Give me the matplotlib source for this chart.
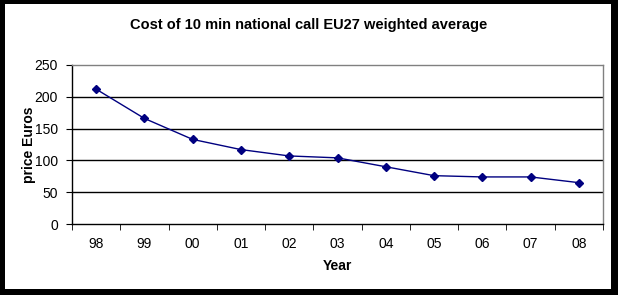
import matplotlib
matplotlib.use("Agg")
import matplotlib.pyplot as plt
from matplotlib.patches import Rectangle

years = ["98", "99", "00", "01", "02", "03", "04", "05", "06", "07", "08"]
price = [212, 166, 133, 117, 107, 104, 90, 76, 74, 74, 65]
yticks = [0, 50, 100, 150, 200, 250]

plt.rcParams['font.family'] = ['Liberation Sans', 'DejaVu Sans']

W, H = 618, 295
fig = plt.figure(figsize=(W / 100, H / 100), dpi=100)
fig.patch.set_facecolor('black')
fig.add_artist(Rectangle((5 / W, 6 / H), (611 - 5) / W, (291 - 6) / H,
                         transform=fig.transFigure, facecolor='white',
                         edgecolor='none', zorder=0))

ax = fig.add_axes([72 / W, (H - 224) / H, (603 - 72) / W, (224 - 65) / H])
ax.set_facecolor('white')
x = list(range(len(years)))
ax.plot(x, price, color='#000080', lw=1, marker='D', markersize=4,
        markerfacecolor='#000080', markeredgecolor='#000080', zorder=3)

ax.set_xlim(-0.5, len(years) - 0.5)
ax.set_ylim(0, 250)
ax.set_yticks(yticks)
ax.set_yticklabels([str(v) for v in yticks], fontsize=10)
ax.set_xticks(x)
ax.set_xticklabels(years, fontsize=10)
ax.tick_params(axis='x', which='major', length=0, pad=9)
ax.set_xticks([i - 0.5 for i in range(len(years) + 1)], minor=True)
ax.tick_params(axis='x', which='minor', length=4, direction='out', color='black')
ax.tick_params(axis='y', length=4, direction='out', color='black', pad=6)

for v in yticks[1:-1]:
    ax.axhline(v, color='black', lw=1, zorder=1)

ax.spines['left'].set_color('black')
ax.spines['bottom'].set_color('black')
ax.spines['top'].set_color('#808080')
ax.spines['right'].set_color('#808080')
for s in ax.spines.values():
    s.set_linewidth(1)

ax.set_xlabel("Year", fontsize=10, fontweight='bold', va='center')
ax.set_ylabel("price Euros", fontsize=10, fontweight='bold', va='center')
ax.xaxis.set_label_coords(0.5, (224 - 266) / 159)
ax.yaxis.set_label_coords((29 - 72) / 531, 0.5)
fig.text(309 / W, (H - 25) / H, "Cost of 10 min national call EU27 weighted average",
         ha='center', va='center', fontsize=10.5, fontweight='bold')

fig.savefig("out.png", dpi=100, facecolor=fig.get_facecolor())
